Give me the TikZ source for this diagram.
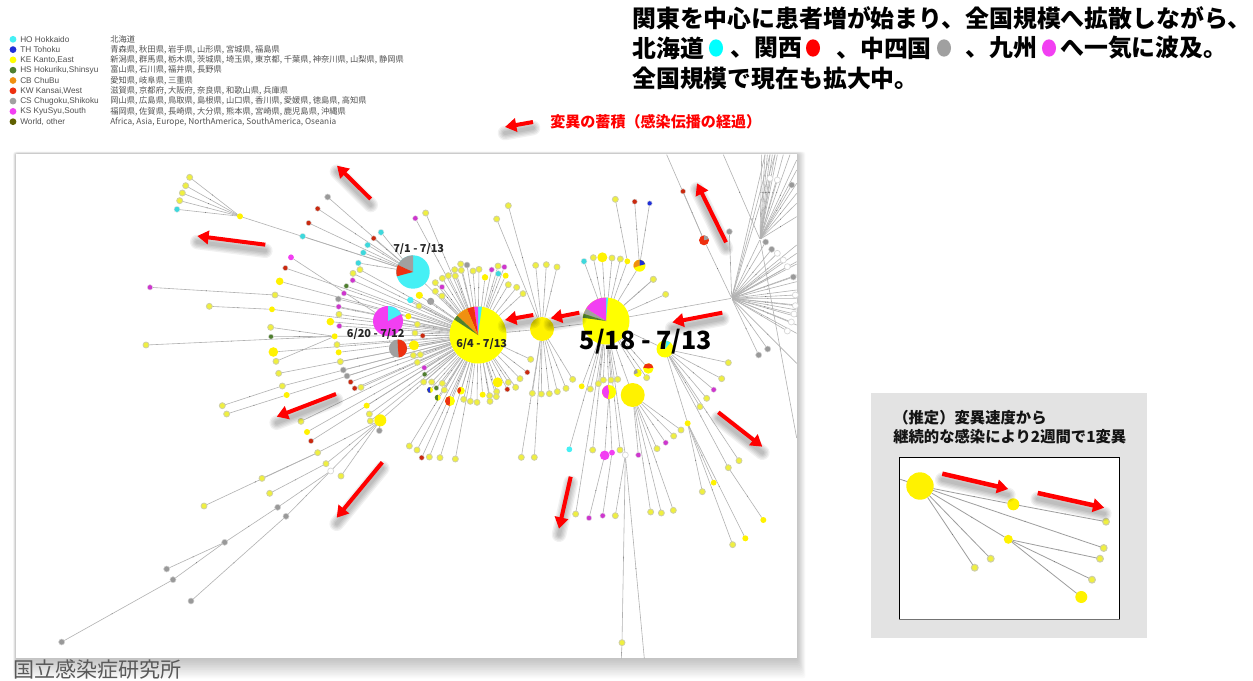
\documentclass[tikz,border=0pt]{standalone}
\usepackage{fontspec}
\usetikzlibrary{arrows.meta,backgrounds,decorations.markings,shapes.geometric}
\newfontfamily\cjk{Noto Sans CJK JP}
\newfontfamily\lat{Liberation Sans}
\definecolor{cCy}{HTML}{45F0F5}
\definecolor{cTc}{HTML}{00FFFF}
\definecolor{cBl}{HTML}{2030D8}
\definecolor{cYe}{HTML}{FFFF00}
\definecolor{cGr}{HTML}{4F7F2F}
\definecolor{cOr}{HTML}{F09010}
\definecolor{cRe}{HTML}{EE3010}
\definecolor{cGy}{HTML}{A0A0A0}
\definecolor{cMa}{HTML}{F23FF2}
\definecolor{cWo}{HTML}{5F6000}
\definecolor{cArrow}{HTML}{FF0000}
\definecolor{cLy}{HTML}{EFEF40}
\definecolor{cLo}{HTML}{CFCFA5}
\newcount\lfc
\def\ox{0}\def\oy{0}
\gdef\edgelist{}
\newcommand\addedge[2]{\xdef\edgelist{\unexpanded\expandafter{\edgelist}\unexpanded{\draw[edge]} (#1) -- (#2);}}
\tikzset{
 edge/.style={draw=black!30,line width=.45pt,
   decoration={markings,mark=at position .55 with {\fill[black!55] (0,0) circle (.4pt);}},postaction={decorate}},
 dotbase/.style={circle,inner sep=0pt,outer sep=0pt,minimum size={#1*1.5pt}},
 ly/.style={dotbase=3,fill=cLy,draw=cLo,line width=.6pt},
 lp/.style={dotbase=3,fill=white,draw=black!16,line width=.5pt},
 lc/.style={dotbase=3,fill=cCy!90!black,draw=black!10,line width=.3pt},
 lm/.style={dotbase=2.7,fill=cMa!85!black,draw=black!12,line width=.3pt},
 lr/.style={dotbase=2.6,fill=cRe!85!black,draw=black!16,line width=.3pt},
 lg/.style={dotbase=3,fill=black!40,draw=black!18,line width=.4pt},
 lv/.style={dotbase=2.5,fill=cGr,draw=black!15,line width=.3pt},
 lb/.style={dotbase=2.5,fill=cBl,draw=black!15,line width=.3pt},
 by/.style={dotbase=#1,fill=yellow},
 by/.default=3.3,
 hubdot/.style={circle,inner sep=0pt,minimum size=1pt},
 datelab/.style={font=\cjk\bfseries\fontsize{8.2pt}{10pt}\selectfont,text=black!85,inner sep=0pt},
 legdot/.style={dotbase=3.4},
 legtext/.style={anchor=west,inner sep=0pt,text=black!68},
 titleline/.style={anchor=west,inner sep=0pt,font=\cjk\bfseries\fontsize{17.9pt}{20pt}\selectfont},
 titlemark/.style={ellipse,inner sep=0pt,minimum width=10.5pt,minimum height=13pt},
 insettext/.style={anchor=west,inner sep=0pt,text=black!92,font=\cjk\bfseries\fontsize{11.5pt}{13pt}\selectfont},
 ily/.style={dotbase=3.4,fill=cLy,draw=cLo,line width=.8pt},
 iedge/.style={edge,draw=black!38,line width=.6pt},
}
% leaf with automatic name
\newcommand\lf[4]{\global\advance\lfc by 1
 \node[#4] (n\the\lfc) at ({\ox+#2/3},{\oy+#3/3}) {};
 \addedge{#1}{n\the\lfc}}
% leaf with own name
\newcommand\nlf[5]{\node[#5] (#1) at ({\ox+#3/3},{\oy+#4/3}) {};
 \addedge{#2}{#1}}
% list of leaves
\newcommand\lfs[3]{\foreach \px/\py in {#3}{\lf{#1}{\px}{\py}{#2}}}
% edge to a free end
\newcommand\fr[3]{\global\advance\lfc by 1
 \coordinate (e\the\lfc) at ({\ox+#2/3},{\oy+#3/3});
 \addedge{#1}{e\the\lfc}}
\newcommand\frs[2]{\foreach \px/\py in {#2}{\fr{#1}{\px}{\py}}}
% pie: name x y r base slices
\newcommand\pienode[6]{\node[dotbase=#4,fill=#5] (#1) at (#2,#3) {};
 \pgfmathsetmacro\pR{#4*.75}
 \foreach \sa/\sb/\sc in {#6}{\fill[\sc] (#1.center) -- ++(\sa:\pR pt) arc[start angle=\sa,end angle=\sb,radius=\pR pt] -- cycle;}}
% red arrow with soft shadow
\newcommand\redarrow[6]{\coordinate (#1s) at (#3,#4);\coordinate (#1t) at (#5,#6);
 \foreach \w in {11,9,7,5,3}{\draw[black,opacity=.055,line width=\w pt,line cap=round] ([shift={(0,6)}]#1s) -- ([shift={(0,6)}]#1t);}
 \draw[cArrow,line width=#2pt,-{Triangle[length=8.5pt,width=10pt]}] (#1s) -- (#1t);}
\newcommand\legrow[5]{\node[legdot,fill=#2] (ld#1) at (13,#3) {};
 \node[legtext,font=\lat\fontsize{6.2pt}{7pt}\selectfont] (ll#1) at (20,#3) {#4};
 \node[legtext,font=\cjk\fontsize{6.2pt}{7pt}\selectfont] (lp#1) at (110,#3) {#5};}
\begin{document}
\begin{tikzpicture}[x=.75pt,y=-.75pt]
\useasboundingbox (0,0) rectangle (1253,681);
\begin{pgfonlayer}{background}
 \fill[white] (0,0) rectangle (1253,681);
 \foreach \i in {1,...,12}{\fill[black,opacity=.02,rounded corners=2pt] ({16-\i*.25},{154-\i*.2}) rectangle ({797+\i*.7},{658+\i*1.7});}
 \fill[white] (16,154) rectangle (797,658);
\end{pgfonlayer}
% ---------- title
\node[titleline] (t1) at (632,18) {関東を中心に患者増が始まり、全国規模へ拡散しながら、};
\node[titleline] (t2a) at (632,48) {北海道};
\node[titlemark,fill=cTc] (m1) at (716,48) {};
\node[titleline] (t2b) at (730,48) {、関西};
\node[titlemark,fill=red] (m2) at (813,48) {};
\node[titleline] (t2c) at (836,48) {、中四国};
\node[titlemark,fill=cGy] (m3) at (944,48) {};
\node[titleline] (t2d) at (965,48) {、九州};
\node[titlemark,fill=cMa] (m4) at (1049,48) {};
\node[titleline] (t2e) at (1060,48) {へ一気に波及。};
\node[titleline] (t3) at (632,78) {全国規模で現在も拡大中。};
\node[anchor=west,inner sep=0pt,text=red,font=\cjk\bfseries\fontsize{11.3pt}{12pt}\selectfont] (t4) at (550,122) {変異の蓄積（感染伝播の経過）};
% ---------- legend
\legrow{1}{cCy}{39.3}{HO Hokkaido}{北海道}
\legrow{2}{cBl}{49.6}{TH Tohoku}{青森県, 秋田県, 岩手県, 山形県, 宮城県, 福島県}
\legrow{3}{cYe}{59.9}{KE Kanto,East}{新潟県, 群馬県, 栃木県, 茨城県, 埼玉県, 東京都, 千葉県, 神奈川県, 山梨県, 静岡県}
\legrow{4}{cGr}{70.2}{HS Hokuriku,Shinsyu}{富山県, 石川県, 福井県, 長野県}
\legrow{5}{cOr}{80.5}{CB ChuBu}{愛知県, 岐阜県, 三重県}
\legrow{6}{cRe}{90.8}{KW Kansai,West}{滋賀県, 京都府, 大阪府, 奈良県, 和歌山県, 兵庫県}
\legrow{7}{cGy}{101.1}{CS Chugoku,Shikoku}{岡山県, 広島県, 鳥取県, 島根県, 山口県, 香川県, 愛媛県, 徳島県, 高知県}
\legrow{8}{cMa}{111.4}{KS KyuSyu,South}{福岡県, 佐賀県, 長崎県, 大分県, 熊本県, 宮崎県, 鹿児島県, 沖縄県}
\legrow{9}{cWo}{121.7}{World, other}{Africa, Asia, Europe, NorthAmerica, SouthAmerica, Oseania}
% ---------- main hubs
\pienode{A}{478}{335}{28.5}{cYe}{90/82/cCy,90/98/cMa,98/113/cRe,113/137/cOr,137/147/cGr}
\pienode{F}{606}{321}{23.5}{cYe}{90/85/cCy,90/148/cMa,148/162/cGy,162/172/cGr}
\pienode{H}{413}{272}{16.7}{cCy}{90/155/cGy,155/195/cRe}
\pienode{K}{388}{321}{15}{cMa}{90/28/cCy}
\pienode{G}{398}{348.5}{9}{cGy}{93/-85/cRe}
\node[by=12] (M) at (542,329) {};
\node[hubdot] (D) at (731.7,298.3) {};
\node[hubdot] (S) at (760,239.3) {};
\node[by=12] (Q) at (632.7,395) {};
\pienode{P}{665}{349}{8.5}{cYe}{82/50/cCy}
\pienode{Y}{639.5}{265.7}{6}{cYe}{90/200/cOr,90/15/cBl}
\pienode{R}{704}{240.3}{5}{cRe}{90/15/cGy}
\pienode{P2}{648.3}{368.5}{5.2}{cYe}{170/10/cRe}
\pienode{P3}{637.7}{373}{4}{cYe}{100/200/cGy}
\pienode{P4}{609}{392}{7}{cYe}{100/260/cMa}
\pienode{P5}{450}{401}{5}{cYe}{95/265/cRe}
\pienode{P6}{461}{390.7}{3.8}{cYe}{100/240/cRe}
\pienode{P7}{430}{390}{3}{cYe}{80/280/cBl}
\pienode{P8}{437.7}{397.7}{3}{cYe}{80/280/cGr}
\node[by=6] (B) at (380.3,420.3) {};
\foreach \a/\b in {A/H,A/K,A/G,A/M,M/F,F/D,F/Q,F/P,F/Y,D/S,D/R,A/B,A/P5,A/P6,A/P7,A/P8,F/P2,F/P3,F/P4}{\addedge{\a}{\b}}
% ---------- group from zoom: upper left
\def\ox{130}\def\oy{150}
\nlf{Z}{H}{330}{199}{by=3}
\lfs{Z}{ly}{179/82,167/107,157/129,149/152}
\lf{Z}{141}{178}{lc}
\lf{H}{593}{141}{lg}
\lfs{H}{lr}{563/176,536/219,731/265}
\lfs{H}{lc}{518/259,685/339,700/308,713/285,753/247}
\lfs{A}{ly}{690/359,669/370,627/493,887/189}
\lfs{A}{lm}{668/391,642/430,626/470,628/528,856/205}
\lf{A}{649}{408}{lv}
\lf{A}{625}{447}{lg}
\lf{A}{601}{515}{by=3.8}
\nlf{a1}{A}{435}{435}{ly}
\lf{a1}{60}{412}{lm}
\nlf{a2}{A}{426}{478}{by=2.9}
\lf{a2}{238}{469}{ly}
\nlf{a3}{A}{614}{559}{by=3}
\lf{a3}{48}{585}{ly}
\lf{a3}{422}{532}{ly}
\lf{a3}{423}{560}{lv}
\lf{K}{483}{322}{by=2.9,fill=cMa}
\lf{A}{466}{354}{lr}
\lf{A}{449}{394}{by=3.8}
% ---------- around hub A
\def\ox{330}\def\oy{200}
\lfs{A}{ly}{392/192,374/209,394/211,355/227,376/228,337/235,316/248,429/213,447/208,504/198,535/254,560/262,579/281,316/274,336/288,267/318,262/373,255/399,250/466,271/464,262/487,602/478,570/536,557/562,535/547,500/575,479/587,499/590,480/604,441/607,421/604,401/598,343/570,337/550,305/546,281/546}
\lf{A}{411}{195}{lg}
\lfs{A}{lm}{523/201,485/209,336/261,283/503}
\lf{A}{505}{221}{lc}
\lf{A}{465}{232}{by=3.2}
\lf{A}{527}{227}{by=3}
\lf{A}{302}{304}{by=3.6,fill=cGy}
\lf{A}{268}{286}{by=3.6}
\lf{A}{241}{300}{by=3.2,fill=cCy}
\lf{A}{235}{349}{by=3}
\lfs{A}{lr}{278/407,592/517,532/568}
\lf{A}{252}{436}{by=5}
\lf{A}{503}{547}{by=5}
\lf{A}{458}{584}{by=3}
\lfs{A}{lv}{319/564,284/523}
% hub M
\lfs{M}{ly}{535/17,500/57,617/196,649/194,681/201,728/538,708/565,682/575,658/581,634/582,607/580}
% hub F upper
\lf{F}{762}{184}{lc}
\lfs{F}{ly}{790/173,846/174,871/177,970/238}
\lf{F}{817}{172}{by=5}
\nlf{f1}{F}{892}{184}{by=2.9}
% hub F lower
\lfs{F}{ly}{781/567,843/540,863/538,820/540,805/551,950/533}
\lf{F}{755}{559}{by=2.9}
\def\ox{560}\def\oy{150}
\lf{f1}{166}{148}{ly}
\lf{Y}{224}{155}{lr}
\lf{Y}{269}{160}{lb}
\lf{F}{317}{433}{ly}
\lf{F}{280}{388}{ly}
\lf{P}{505}{638}{ly}
\lf{P}{485}{686}{ly}
\lf{P}{461}{719}{lm}
\lf{P}{440}{745}{ly}
\lf{R}{369}{124}{lr}
\fr{R}{320}{14}
% ---------- lower part, hub F/Q fans
\def\ox{400}\def\oy{370}
\lf{P}{900}{110}{ly}
\nlf{q1}{P}{863}{160}{by=3}
\lf{Q}{843}{180}{ly}
\lf{Q}{821}{198}{ly}
\lf{Q}{797}{218}{lm}
\lf{Q}{771}{236}{ly}
\lf{P}{1017}{272}{ly}
\nlf{q2}{P}{985}{293}{ly}
\lf{q2}{1090}{450}{by=3}
\lf{q1}{907}{365}{ly}
\lf{q1}{941}{338}{by=2.9}
\lf{q1}{998}{524}{ly}
\lf{q1}{1036}{505}{by=3}
\lfs{Q}{ly}{752/426,784/429,820/421}
\lf{Q}{715}{255}{lm}
\nlf{q3}{F}{676}{255}{lp}
\lf{q3}{646}{437}{ly}
\nlf{q4}{q3}{666}{818}{ly}
\fr{q4}{664}{866}
\fr{q3}{733}{866}
\lf{F}{660}{240}{ly}
\nlf{q5}{P4}{636}{248}{by=2.9,fill=cMa}
\nlf{q6}{P4}{614}{256}{by=4.8,fill=cMa}
\lf{q6}{567}{444}{lm}
\lf{q5}{608}{437}{lm}
\lf{F}{578}{240}{ly}
\lf{F}{527}{432}{ly}
\lf{F}{508}{238}{by=2.9,fill=cCy}
\lfs{A}{ly}{28/228,51/240,88/261,120/263,166/267}
\lf{A}{65}{263}{lr}
\lfs{M}{ly}{364/262,403/262}
% ---------- left lower
\def\ox{260}\def\oy{340}
\lfs{A}{ly}{231/14,241/65,303/142}
\lf{A}{236}{37}{by=3}
\nlf{c1}{A}{40}{36}{by=4.8}
\lf{a3}{48}{64}{ly}
\lf{A}{56}{100}{ly}
\nlf{c2}{A}{67}{138}{ly}
\nlf{c3}{A}{80}{165}{by=3}
\lfs{A}{lg}{250/90,261/108}
\lfs{A}{lr}{272/126,284/145}
\lf{A}{320}{197}{by=3}
\lf{A}{328}{222}{ly}
\lf{A}{331}{243}{ly}
\lf{B}{358}{272}{lg}
\lf{A}{123}{244}{ly}
\lf{A}{141}{276}{by=3}
\lf{A}{153}{303}{lr}
\def\ox{20}\def\oy{370}
\lf{c2}{607}{107}{ly}
\lf{c3}{620}{132}{ly}
\nlf{b0}{B}{893}{248}{ly}
\nlf{b1}{B}{918}{281}{ly}
\lf{B}{963}{318}{ly}
\lf{b0}{726}{325}{ly}
\lf{b0}{552}{408}{ly}
\lf{b1}{749}{370}{ly}
\nlf{g0}{B}{932}{303}{lp}
\nlf{g1}{g0}{773}{412}{lg}
\nlf{g2}{g0}{798}{439}{lg}
\lf{g2}{513}{693}{lg}
\nlf{g3}{g1}{614}{517}{lg}
\lf{g3}{440}{597}{lg}
\nlf{g4}{g3}{459}{629}{lg}
\lf{g4}{125}{816}{lg}
% ---------- gray hub
\def\ox{690}\def\oy{150}
\lf{D}{118}{245}{lg}
\lf{D}{206}{615}{lg}
\lf{D}{233}{597}{lg}
\lf{D}{227}{276}{lg}
\lf{D}{245}{298}{lg}
\lf{D}{262}{310}{lp}
\lf{D}{280}{330}{lp}
\lf{D}{292}{350}{lp}
\lf{D}{310}{381}{lg}
\lf{D}{316}{435}{lp}
\lf{D}{316}{467}{lp}
\lf{D}{312}{492}{lp}
\lf{D}{304}{516}{lp}
\lf{D}{292}{543}{lp}
\frs{D}{320/285,320/310,320/335,320/342,320/375,320/395,320/420,320/445,320/465,320/480,320/500,320/525,320/550,320/640,240/14,225/14,255/14}
\frs{S}{215/14,225/14,232/14,240/14,247/14,255/14,262/14,280/14,300/14,320/30,320/60,320/100,320/130,320/160,320/200,100/14}
\fr{S}{320}{864}
\lf{S}{262}{90}{lp}
\lf{S}{240}{85}{lp}
\lf{S}{305}{105}{lg}
% all tree edges, under the nodes
\begin{pgfonlayer}{background}
\edgelist
\end{pgfonlayer}
% ---------- date labels
\node[datelab] (d1) at (418.7,248.7) {7/1 - 7/13};
\node[datelab] (d2) at (375.7,334.3) {6/20 - 7/12};
\node[datelab] (d3) at (481.7,343.7) {6/4 - 7/13};
\node[inner sep=0pt,text=black,font=\cjk\bfseries\fontsize{18.8pt}{22pt}\selectfont] (d4) at (645.8,342) {5/18 - 7/13};
% ---------- red arrows
\redarrow{r1}{3}{370.7}{199}{337}{165.7}
\redarrow{r2}{3}{265.3}{244.7}{197.3}{236}
\redarrow{r3}{3}{726}{242.3}{697}{183.3}
\redarrow{r4}{3}{722.3}{312.7}{672.3}{322.3}
\redarrow{r5}{3}{579.3}{312.7}{550.7}{318.3}
\redarrow{r6}{3}{533.3}{315}{505}{320}
\redarrow{r7}{3}{336}{394}{276.7}{416.7}
\redarrow{r8}{3}{382.3}{462.3}{336.7}{517.7}
\redarrow{r9}{3}{570.7}{476.7}{559}{528.7}
\redarrow{r10}{3}{718.3}{412.3}{762.3}{446.7}
\redarrow{r11}{3}{533}{122}{505}{127}
% ---------- inset
\node[fill=black!11,inner sep=0pt,minimum width=207pt,minimum height=183.75pt] (panel) at (1009,515.5) {};
\node[draw=black,fill=white,line width=.75pt,inner sep=0pt,minimum width=165.3pt,minimum height=121.3pt] (win) at (1009.5,538.2) {};
\draw[black!55,line width=1pt] (win.south west) -- (win.south east);
\node[insettext] (i1) at (893,418) {（推定）変異速度から};
\node[insettext] (i2) at (893,436.7) {継続的な感染により2週間で1変異};
\coordinate (iin) at (900.3,479.3);
\node[by=13.7] (ib) at (920,486) {};
\node[by=6] (i3) at (1013.3,504.3) {};
\node[by=4.5] (i4) at (1008.3,539.3) {};
\node[ily] (i5) at (1106,521.7) {};
\node[ily] (i6) at (1103.7,548) {};
\node[ily] (i7) at (1100,558.7) {};
\node[ily] (i8) at (1092,579.7) {};
\node[by=6] (i9) at (1081.3,597) {};
\node[ily] (i10) at (990.7,558.7) {};
\node[ily] (i11) at (974.7,567.7) {};
\foreach \a/\b in {iin/ib,ib/i3,i3/i5,ib/i6,ib/i4,i4/i7,i4/i8,i4/i9,ib/i10,ib/i11}{\draw[iedge] (\a) -- (\b);}
\redarrow{r12}{3.4}{942.3}{473.7}{1008.3}{489}
\redarrow{r13}{3.4}{1037.7}{493}{1104.3}{507.7}
% ---------- footer
\node[anchor=west,inner sep=0pt,text=black!65,font=\cjk\fontsize{15.8pt}{18pt}\selectfont] (foot) at (13,669) {国立感染症研究所};
\end{tikzpicture}
\end{document}
